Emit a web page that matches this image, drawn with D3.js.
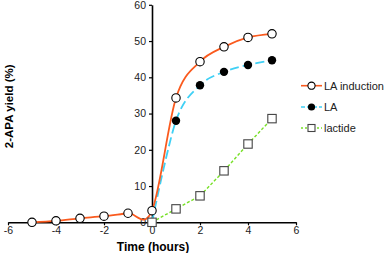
<!DOCTYPE html>
<html>
<head>
<meta charset="utf-8">
<script src="https://cdn.jsdelivr.net/npm/d3@7"></script>
<style>
  body { margin: 0; background: #fff; }
  text { font-family: "Liberation Sans", Arial, sans-serif; }
</style>
</head>
<body>
<div id="chart"></div>
<script>
var svgWidth = 390;
var svgHeight = 253;

// data
var inductionTime = [-5, -4, -3, -2, -1, 0, 1, 2, 3, 4, 5];
var inductionYield = [0, 0.4, 1.1, 1.7, 2.5, 3.2, 34.3, 44.3, 48.4, 51, 52];
var laTime = [0, 1, 2, 3, 4, 5];
var laYield = [0, 28, 37.8, 41.5, 43.4, 44.7];
var lactideTime = [0, 1, 2, 3, 4, 5];
var lactideYield = [0, 3.7, 7.3, 14.2, 21.6, 28.6];
var xTicks = [-6, -4, -2, 0, 2, 4, 6];
var yTicks = [0, 10, 20, 30, 40, 50, 60];
var seriesNames = ["LA induction", "LA", "lactide"];

var svg = d3.select("#chart")
    .append("svg")
    .attr("width", svgWidth)
    .attr("height", svgHeight);

var x = d3.scaleLinear().domain([-6, 6]).range([8, 296]);
var y = d3.scaleLinear().domain([0, 60]).range([222.3, 4.8]);

var induction = inductionTime.map((t, i) => ({ t: t, v: inductionYield[i] }));
var la = laTime.map((t, i) => ({ t: t, v: laYield[i] }));
var lactide = lactideTime.map((t, i) => ({ t: t, v: lactideYield[i] }));

var smooth = d3.line().x(d => x(d.t)).y(d => y(d.v)).curve(d3.curveCardinal.tension(0));
var straight = d3.line().x(d => x(d.t)).y(d => y(d.v));

// axes
var xAxis = svg.append("g")
    .attr("transform", `translate(0, ${y(0)})`)
    .call(d3.axisBottom(x).tickValues(xTicks).tickSize(3).tickSizeOuter(0).tickFormat(d3.format("d")));
var yAxis = svg.append("g")
    .attr("transform", `translate(${x(0)}, 0)`)
    .call(d3.axisLeft(y).tickValues(yTicks).tickSize(3).tickSizeOuter(0));

[xAxis, yAxis].forEach(a => {
    a.select(".domain").attr("stroke", "#000").attr("stroke-width", 1.6);
    a.selectAll(".tick line").attr("stroke", "#000").attr("stroke-width", 1.2);
    a.selectAll(".tick text").attr("font-size", 10.5).attr("fill", "#222")
        .attr("font-family", "Liberation Sans, Arial, sans-serif");
});
xAxis.selectAll(".tick text").attr("y", 4).attr("dy", "0.75em").text(d => d < 0 ? "-" + Math.abs(d) : d);
yAxis.selectAll(".tick text").attr("x", -6);

svg.append("text")
    .attr("x", x(0) + 1).attr("y", 251)
    .attr("text-anchor", "middle")
    .attr("font-size", 12).attr("font-weight", "bold")
    .text("Time (hours)");
svg.append("text")
    .attr("transform", `translate(13, ${y(32)}) rotate(-90)`)
    .attr("text-anchor", "middle")
    .attr("font-size", 11.5).attr("font-weight", "bold")
    .text("2-APA yield (%)");

// lines
svg.append("path").attr("d", straight(lactide))
    .attr("fill", "none").attr("stroke", "#77e027").attr("stroke-width", 1.4)
    .attr("stroke-dasharray", "3,2");
svg.append("path").attr("d", smooth(la))
    .attr("fill", "none").attr("stroke", "#3fd0f5").attr("stroke-width", 1.8)
    .attr("stroke-dasharray", "9,4");
svg.append("path").attr("d", smooth(induction))
    .attr("fill", "none").attr("stroke", "#fa5a1e").attr("stroke-width", 1.8);

// markers
svg.selectAll(".ind").data(induction).enter().append("circle")
    .attr("cx", d => x(d.t)).attr("cy", d => y(d.v)).attr("r", 4.2)
    .attr("fill", "#fff").attr("stroke", "#000").attr("stroke-width", 1.1);
svg.selectAll(".la").data(la).enter().append("circle")
    .attr("cx", d => x(d.t)).attr("cy", d => y(d.v)).attr("r", 4.2)
    .attr("fill", "#000");
svg.selectAll(".lac").data(lactide).enter().append("rect")
    .attr("x", d => x(d.t) - 4.2).attr("y", d => y(d.v) - 4.2)
    .attr("width", 8.4).attr("height", 8.4)
    .attr("fill", "#fff").attr("stroke", "#444").attr("stroke-width", 1.1);

// legend
var legendY = [85.7, 107, 128];
var legendStyles = [
    { stroke: "#fa5a1e", dash: null, marker: "open" },
    { stroke: "#3fd0f5", dash: "4,2", marker: "filled" },
    { stroke: "#77e027", dash: "2,2", marker: "square" }
];
seriesNames.forEach((name, i) => {
    var g = svg.append("g").attr("transform", `translate(0, ${legendY[i]})`);
    var s = legendStyles[i];
    g.append("line").attr("x1", 301).attr("x2", 322).attr("y1", 0).attr("y2", 0)
        .attr("stroke", s.stroke).attr("stroke-width", 1.6)
        .attr("stroke-dasharray", s.dash);
    if (s.marker === "open") {
        g.append("circle").attr("cx", 311.5).attr("cy", 0).attr("r", 3.6)
            .attr("fill", "#fff").attr("stroke", "#000").attr("stroke-width", 1.1);
    } else if (s.marker === "filled") {
        g.append("circle").attr("cx", 311.5).attr("cy", 0).attr("r", 3.6).attr("fill", "#000");
    } else {
        g.append("rect").attr("x", 308).attr("y", -3.5).attr("width", 7).attr("height", 7)
            .attr("fill", "#fff").attr("stroke", "#444").attr("stroke-width", 1.1);
    }
    g.append("text").attr("x", 324).attr("y", 4)
        .attr("font-size", 11).attr("fill", "#222").text(name);
});
</script>
</body>
</html>
